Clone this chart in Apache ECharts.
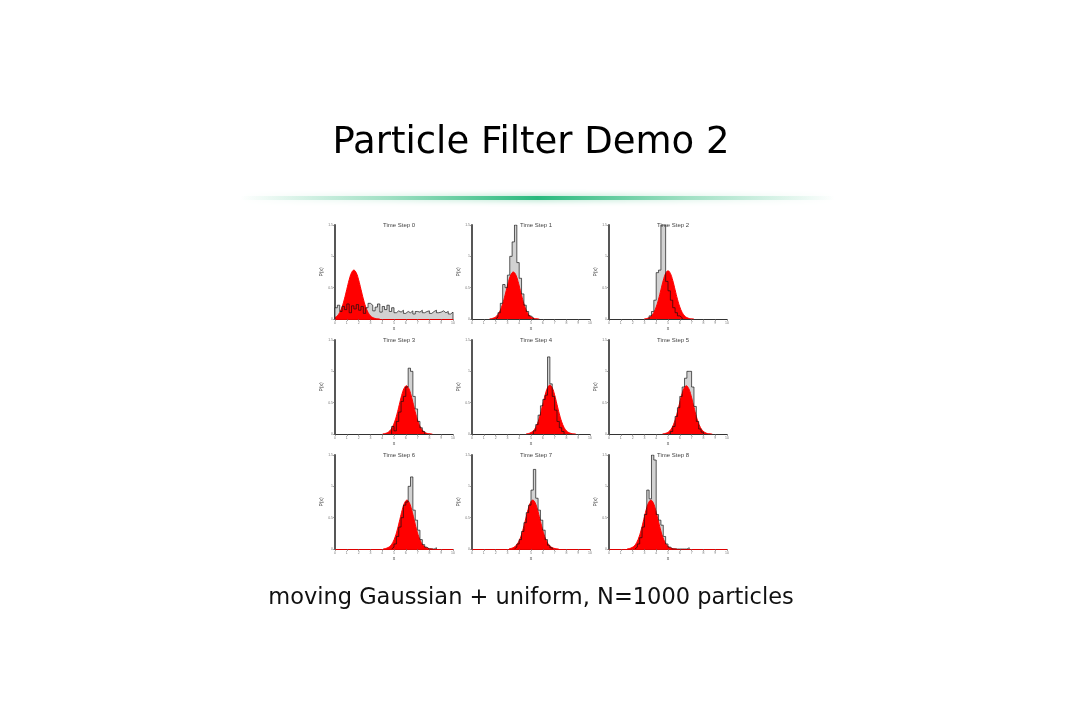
<!DOCTYPE html>
<html>
<head>
<meta charset="utf-8">
<script src="https://cdn.jsdelivr.net/npm/echarts@6/dist/echarts.min.js"></script>
<style>
html,body{margin:0;padding:0;background:#fff;}
#chart{width:1080px;height:720px;}
</style>
</head>
<body>
<div id="chart"></div>
<script>
// ---- Data ----
const pageTitle = 'Particle Filter Demo 2';
const caption = 'moving Gaussian + uniform, N=1000 particles';
const stepLabels = ['Time Step 0','Time Step 1','Time Step 2','Time Step 3','Time Step 4','Time Step 5','Time Step 6','Time Step 7','Time Step 8'];
const xTicks = [0,1,2,3,4,5,6,7,8,9,10];
const yTicks = [0,0.5,1,1.5];
const binWidth = 0.2;
const sampleStep = 0.2;

// particle histograms: first bin left edge + bin heights
const histStart = [0, 2.0, 3.4, 4.8, 5.2, 5.2, 4.8, 3.6, 2.2];
const hist0 = [0.18,0.22,0.12,0.20,0.15, 0.24,0.10,0.21,0.16,0.23, 0.14,0.20,0.09,0.18,0.25, 0.22,0.13,0.19,0.24,0.11, 0.20,0.15,0.22,0.12,0.18,
               0.10,0.13,0.11,0.14,0.09, 0.12,0.10,0.13,0.08,0.12, 0.11,0.14,0.10,0.12,0.13, 0.09,0.12,0.14,0.10,0.11, 0.13,0.10,0.12,0.08,0.11];
const hist1 = [0.03,0.10,0.25,0.55,0.50,0.70,1.00,1.23,1.50,0.90,0.65,0.40,0.22,0.12,0.05,0.02];
const hist2 = [0.05,0.12,0.30,0.74,0.78,1.50,1.50,0.60,0.45,0.30,0.18,0.10,0.05,0.02];
const hist3 = [0.12,0.05,0.20,0.35,0.52,0.60,0.75,1.05,1.00,0.60,0.40,0.20,0.10,0.04];
const hist4 = [0.05,0.15,0.30,0.45,0.55,0.62,1.23,0.80,0.60,0.38,0.20,0.10,0.04];
const hist5 = [0.04,0.12,0.28,0.42,0.60,0.75,0.89,1.00,1.00,0.75,0.44,0.20,0.08,0.03];
const hist6 = [0.03,0.08,0.20,0.35,0.50,0.70,0.75,1.00,1.15,0.62,0.46,0.30,0.15,0.07,0.03,0,0,0,0.02];
const hist7 = [0.03,0.08,0.15,0.28,0.42,0.58,0.70,0.94,1.27,0.81,0.62,0.46,0.30,0.15,0.06,0.02];
const hist8 = [0.03,0.08,0.18,0.35,0.55,0.94,0.80,1.50,1.42,0.55,0.46,0.38,0.20,0.08,0.03,0,0,0,0,0,0,0,0.02];
const histVals = [hist0,hist1,hist2,hist3,hist4,hist5,hist6,hist7,hist8];

// true (red) density: first sample x + sampled heights
const redStart = [0, 1.5, 3.0, 4.05, 4.6, 4.55, 4.1, 3.15, 1.55];
const red0 = [0.023,0.051,0.105,0.194,0.321,0.473,0.625,0.738,0.78,0.738,0.625,0.473,0.321,0.194,0.105,0.051,0.023,0.009,0.003,0];
const red1 = [0,0.003,0.008,0.022,0.049,0.101,0.187,0.308,0.455,0.60,0.71,0.75,0.71,0.60,0.455,0.308,0.187,0.101,0.049,0.022,0.008,0.003,0].slice(1);
const red2 = [0,0.003,0.008,0.022,0.051,0.104,0.192,0.316,0.467,0.617,0.728,0.77,0.728,0.617,0.467,0.316,0.192,0.104,0.051,0.022,0.008,0.003,0].slice(1);
const red3 = [0,0.003,0.008,0.022,0.051,0.104,0.192,0.316,0.467,0.617,0.728,0.77,0.728,0.617,0.467,0.316,0.192,0.104,0.051,0.022,0.008,0.003,0].slice(1);
const red4 = [0,0.003,0.009,0.023,0.051,0.105,0.194,0.321,0.473,0.625,0.738,0.78,0.738,0.625,0.473,0.321,0.194,0.105,0.051,0.023,0.009,0.003,0].slice(1);
const red5 = [0,0.003,0.008,0.022,0.051,0.104,0.192,0.316,0.467,0.617,0.728,0.77,0.728,0.617,0.467,0.316,0.192,0.104,0.051,0.022,0.008,0.003,0].slice(1);
const red6 = [0,0.003,0.009,0.023,0.051,0.105,0.194,0.321,0.473,0.625,0.738,0.78,0.738,0.625,0.473,0.321,0.194,0.105,0.051,0.023,0.009,0.003,0].slice(1);
const red7 = [0,0.004,0.011,0.027,0.058,0.114,0.204,0.330,0.480,0.630,0.740,0.78,0.740,0.630,0.480,0.330,0.204,0.114,0.058,0.027,0.011,0.004,0].slice(1);
const red8 = [0,0.003,0.009,0.023,0.051,0.105,0.194,0.321,0.473,0.625,0.738,0.78,0.738,0.625,0.473,0.321,0.194,0.105,0.051,0.023,0.009,0.003,0].slice(1);
const redVals = [red0,red1,red2,red3,red4,red5,red6,red7,red8];

// ---- Build chart ----
const chart = echarts.init(document.getElementById('chart'), null, {renderer: 'canvas'});
const gridLefts = [335, 472, 609];
const gridTops = [225, 340, 455];
const gw = 118, gh = 94;
const redAxisPanels = [0, 6, 7, 8];
const r2 = v => Math.round(v * 100) / 100;

const grids = [], xAxes = [], yAxes = [], series = [], titles = [];
for (let p = 0; p < 9; p++) {
  const col = p % 3, row = Math.floor(p / 3);
  const left = gridLefts[col], top = gridTops[row];
  grids.push({left: left, top: top, width: gw, height: gh, containLabel: false});
  titles.push({
    text: stepLabels[p], left: left + gw / 2, top: top - 8, textAlign: 'center',
    textStyle: {fontSize: 6, fontWeight: 'normal', color: '#444', fontFamily: 'Liberation Sans'}
  });
  const redAxis = redAxisPanels.indexOf(p) >= 0;
  xAxes.push({
    gridIndex: p, type: 'value', min: xTicks[0], max: xTicks[xTicks.length - 1], interval: xTicks[1] - xTicks[0],
    name: 'x', nameLocation: 'middle', nameGap: 6,
    nameTextStyle: {fontSize: 5, color: '#444', fontFamily: 'Liberation Sans'},
    axisLine: {lineStyle: {color: redAxis ? '#e00000' : '#333', width: 1}},
    axisTick: {length: 2, lineStyle: {color: '#666', width: 0.6}},
    axisLabel: {fontSize: 3.5, color: '#777', margin: 2, fontFamily: 'Liberation Sans'},
    splitLine: {show: false}
  });
  yAxes.push({
    gridIndex: p, type: 'value', min: yTicks[0], max: yTicks[yTicks.length - 1], interval: yTicks[1] - yTicks[0],
    name: 'P(x)', nameLocation: 'middle', nameGap: 7, nameRotate: 90,
    nameTextStyle: {fontSize: 5, color: '#444', fontFamily: 'Liberation Sans'},
    axisLine: {show: true, lineStyle: {color: '#444', width: 1.8}},
    axisTick: {show: true, length: 2, lineStyle: {color: '#666', width: 0.6}},
    axisLabel: {fontSize: 3.5, color: '#777', margin: 2, fontFamily: 'Liberation Sans'},
    splitLine: {show: false}
  });
  // histogram
  const hv = histVals[p], hs = histStart[p];
  const hdata = [[hs, 0]];
  for (let i = 0; i < hv.length; i++) hdata.push([r2(hs + i * binWidth), hv[i]]);
  hdata.push([r2(hs + hv.length * binWidth), 0]);
  series.push({
    type: 'line', xAxisIndex: p, yAxisIndex: p, data: hdata, step: 'end',
    symbol: 'none', lineStyle: {width: 0}, areaStyle: {color: '#d2d2d2', opacity: 1}, z: 2, silent: true
  });
  // red density
  const rv = redVals[p], rs = redStart[p];
  const rdata = rv.map((v, i) => [r2(rs + i * sampleStep), v]);
  series.push({
    type: 'line', xAxisIndex: p, yAxisIndex: p, data: rdata, smooth: 0.4,
    symbol: 'none', lineStyle: {color: '#ff0000', width: 1}, areaStyle: {color: '#ff0000', opacity: 1}, z: 3, silent: true
  });
  // histogram outline on top
  series.push({
    type: 'line', xAxisIndex: p, yAxisIndex: p, data: hdata, step: 'end',
    symbol: 'none', lineStyle: {color: '#111', width: 0.8, opacity: 0.85}, z: 4, silent: true
  });
}

const option = {
  animation: false,
  backgroundColor: '#ffffff',
  title: titles,
  grid: grids,
  xAxis: xAxes,
  yAxis: yAxes,
  series: series,
  graphic: [
    {
      type: 'text', x: 531, y: 143, z: 10,
      style: {text: pageTitle, fontSize: 37, fontFamily: 'DejaVu Sans', fill: '#000', align: 'center', verticalAlign: 'middle'}
    },
    {
      type: 'rect', shape: {x: 240, y: 196, width: 595, height: 4}, z: 5,
      style: {
        fill: new echarts.graphic.LinearGradient(0, 0, 1, 0, [
          {offset: 0, color: 'rgba(80,200,150,0)'},
          {offset: 0.25, color: 'rgba(70,195,140,0.45)'},
          {offset: 0.5, color: 'rgba(40,185,125,1)'},
          {offset: 0.75, color: 'rgba(70,195,140,0.45)'},
          {offset: 1, color: 'rgba(80,200,150,0)'}
        ]),
        shadowBlur: 6, shadowColor: 'rgba(60,190,130,0.6)'
      }
    },
    {
      type: 'text', x: 531, y: 598, z: 10,
      style: {text: caption, fontSize: 22.5, fontFamily: 'DejaVu Sans', fill: '#111', align: 'center', verticalAlign: 'middle'}
    }
  ]
};
chart.setOption(option);
</script>
</body>
</html>
